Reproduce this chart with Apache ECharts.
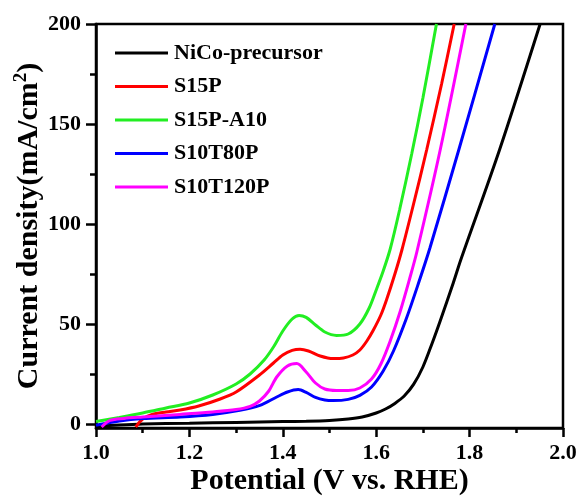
<!DOCTYPE html>
<html><head><meta charset="utf-8">
<script src="https://cdn.jsdelivr.net/npm/echarts@6/dist/echarts.min.js"></script>
<style>html,body{margin:0;padding:0;background:#fff}#c{width:579px;height:497px}</style>
</head><body><div id="c"></div>
<script>
const seriesNames = ['NiCo-precursor', 'S15P', 'S15P-A10', 'S10T80P', 'S10T120P'];
const seriesColors = ['#000000', '#ff0000', '#22ee22', '#0000ff', '#ff00ff'];

const nicoX = [1.00,1.05,1.10,1.20,1.30,1.40,1.45,1.50,1.54,1.57,1.60,1.62,1.64,1.66,1.68,1.70,1.72,1.737,1.765,1.781,1.864,1.951];
const nicoY = [-1.2,-0.5,0,0.4,0.8,1.2,1.4,1.8,2.5,3.5,5.5,7.5,10.3,14,19.8,28.5,40.5,51.5,70.5,82,137,200];

const s15pX = [1.085,1.10,1.12,1.15,1.18,1.22,1.266,1.30,1.35,1.38,1.40,1.42,1.437,1.455,1.48,1.508,1.53,1.55,1.565,1.58,1.594,1.61,1.622,1.64,1.655,1.68,1.708,1.74,1.767];
const s15pY = [-1.5,2.5,4.8,6,7,9,12.5,16,24.5,30.5,34.5,36.8,37.4,36.5,34,32.7,33,34.5,37,41.5,47,54.5,62,75,87,110,137,170,200];

const s15pa10X = [1.00,1.05,1.10,1.15,1.20,1.25,1.30,1.33,1.36,1.38,1.40,1.42,1.435,1.45,1.47,1.49,1.515,1.54,1.565,1.585,1.60,1.615,1.63,1.65,1.676,1.70,1.729];
const s15pa10Y = [1.3,3.3,5.5,8,10.5,14.5,20,25,32,38.5,46.5,52.5,54.3,53.3,49.5,46,44.3,45,50,58,67,76.5,87.5,107,135,163,200];

const s10t80pX = [1.00,1.05,1.10,1.18,1.25,1.308,1.351,1.387,1.41,1.433,1.45,1.47,1.49,1.508,1.54,1.565,1.59,1.615,1.637,1.665,1.69,1.715,1.778,1.854];
const s10t80pY = [-0.6,1.5,2.7,3.5,4.8,6.8,9.3,13.5,16,17.2,15.8,13.3,12,11.7,12.3,14.3,18.5,26.5,36.5,53,70,88,138,200];

const s10t120pX = [1.012,1.03,1.06,1.10,1.18,1.25,1.30,1.33,1.35,1.37,1.387,1.41,1.43,1.45,1.47,1.49,1.515,1.54,1.565,1.59,1.61,1.63,1.651,1.672,1.687,1.737,1.792];
const s10t120pY = [-1.5,1.8,2.8,3.5,4.8,6,7.2,8.8,11.5,16.5,23.5,29,30.2,26,20.5,17.5,16.8,16.8,18,22.5,30,41.5,56,73,86,137,200];

const yMajorTicks = [0, 50, 100, 150, 200];
const yMinorTicks = [25, 75, 125, 175];

const xs = [nicoX, s15pX, s15pa10X, s10t80pX, s10t120pX];
const ys = [nicoY, s15pY, s15pa10Y, s10t80pY, s10t120pY];

const FONT = '"Liberation Serif", "Times New Roman", serif';
const chart = echarts.init(document.getElementById('c'));

const series = seriesNames.map((n, i) => ({
  name: n,
  type: 'line',
  showSymbol: false,
  symbol: 'none',
  smooth: 0.3,
  color: seriesColors[i],
  lineStyle: { width: 3, color: seriesColors[i] },
  data: xs[i].map((x, k) => [x, ys[i][k]]),
  z: 2 + i
}));

chart.setOption({
  animation: false,
  backgroundColor: '#fff',
  grid: { left: 96, right: 16, top: 24, bottom: 69, containLabel: false, outerBoundsMode: 'none', show: true, borderColor: '#000', borderWidth: 2.5, backgroundColor: 'transparent' },
  legend: {
    orient: 'vertical', left: 115, top: 42, padding: 0,
    icon: 'rect', itemWidth: 53, itemHeight: 3, itemGap: 11.5,
    textStyle: { fontFamily: FONT, fontWeight: 'bold', fontSize: 22, color: '#000', lineHeight: 22, padding: [0,0,0,1] },
    data: seriesNames
  },
  xAxis: {
    type: 'value', min: 1.0, max: 2.0, interval: 0.2,
    axisLine: { onZero: false, lineStyle: { color: '#000', width: 2.5 } },
    axisTick: { show: true, inside: false, length: 9, lineStyle: { color: '#000', width: 2.5 } },
    minorTick: { show: true, splitNumber: 2, length: 5, lineStyle: { color: '#000', width: 2.5 } },
    splitLine: { show: false },
    axisLabel: { fontFamily: FONT, fontWeight: 'bold', fontSize: 22, color: '#000', margin: 14, formatter: v => v.toFixed(1) },
    name: 'Potential (V vs. RHE)', nameLocation: 'middle', nameGap: 38, nameMoveOverlap: false,
    nameTextStyle: { fontFamily: FONT, fontWeight: 'bold', fontSize: 30, color: '#000' }
  },
  yAxis: [{
    type: 'value', min: -2, max: 200,
    axisLine: { onZero: false, lineStyle: { color: '#000', width: 2.5 } },
    axisTick: { show: true, length: 10, customValues: yMajorTicks, lineStyle: { color: '#000', width: 2.5 } },
    splitLine: { show: false },
    axisLabel: { customValues: yMajorTicks, fontFamily: FONT, fontWeight: 'bold', fontSize: 22, color: '#000', margin: 15 },
    name: 'Current density(mA/cm{s|2})', nameLocation: 'middle', nameGap: 50, nameMoveOverlap: false,
    nameTextStyle: {
      fontFamily: FONT, fontWeight: 'bold', fontSize: 30, color: '#000', lineHeight: 34,
      rich: { s: { fontFamily: FONT, fontWeight: 'bold', fontSize: 19, color: '#000', lineHeight: 19, verticalAlign: 'top' } }
    }
  }, {
    type: 'value', min: -2, max: 200, position: 'left',
    axisLine: { show: false, onZero: false },
    axisTick: { show: true, length: 6, customValues: yMinorTicks, lineStyle: { color: '#000', width: 2.5 } },
    splitLine: { show: false },
    axisLabel: { show: false }
  }],
  series: series
});
</script>
</body></html>
